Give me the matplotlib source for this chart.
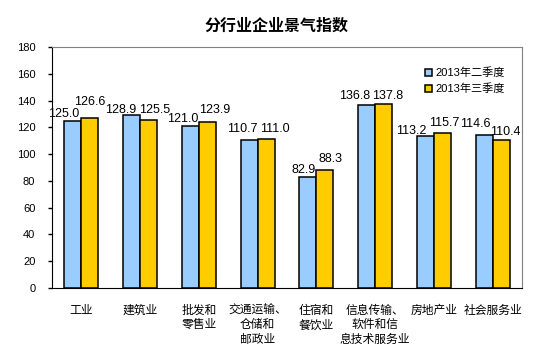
import matplotlib.pyplot as plt
import numpy as np

plt.rcParams['font.family'] = ['Liberation Sans', 'Noto Sans CJK SC']

categories = ['工业', '建筑业', '批发和\n零售业', '交通运输、\n仓储和\n邮政业', '住宿和\n餐饮业',
              '信息传输、\n软件和信\n息技术服务业', '房地产业', '社会服务业']
q2 = [125.0, 128.9, 121.0, 110.7, 82.9, 136.8, 113.2, 114.6]
q3 = [126.6, 125.5, 123.9, 111.0, 88.3, 137.8, 115.7, 110.4]
series_names = ['2013年二季度', '2013年三季度']

# label nudges in pixels (dx, dy above bar top), as Excel staggered them
q2_off = [(-9, 7), (-10.5, 5), (-8, 7), (-7, 11), (-4.5, 7.5), (-11.5, 9), (-14, 5.5), (-8.5, 11)]
q3_off = [(0, 16.5), (6, 9.5), (7.5, 12), (9, 10.5), (5.5, 11), (4, 8), (1.5, 10), (4, 8.5)]

fig = plt.figure(figsize=(5.57, 3.53), dpi=100)
ax = fig.add_axes([52/557, 65/353, 470/557, 241/353])

x = np.arange(len(categories))
w = 0.29
b1 = ax.bar(x - w/2, q2, w, color='#99CCFF', edgecolor='black', linewidth=1.1, label=series_names[0])
b2 = ax.bar(x + w/2, q3, w, color='#FFCC00', edgecolor='black', linewidth=1.1, label=series_names[1])

px = 72 / 100
for bars, vals, offs in [(b1, q2, q2_off), (b2, q3, q3_off)]:
    for r, v, (dx, dy) in zip(bars, vals, offs):
        ax.annotate('%.1f' % v, (r.get_x() + r.get_width()/2, v),
                    xytext=(dx*px, dy*px), textcoords='offset points',
                    ha='center', va='center', fontsize=9)

ax.set_xlim(-0.5, len(categories) - 0.5)
ax.set_ylim(0, 180)
ax.set_yticks(range(0, 181, 20))
ax.set_xticks(x)
ax.set_xticklabels(categories, fontsize=8.5, linespacing=1.3, va='top')
ax.tick_params(axis='x', length=0, pad=12)
ax.tick_params(axis='y', length=3, width=1, direction='out', labelsize=8, pad=9)

for s in ['top', 'right']:
    ax.spines[s].set_color('#808080')
for s in ['left', 'bottom']:
    ax.spines[s].set_color('black')

ax.legend(loc='upper left', bbox_to_anchor=(373/470, 0.915), frameon=False, fontsize=8,
          handlelength=0.6, handleheight=0.6, handletextpad=0.3, labelspacing=0.5,
          borderaxespad=0, borderpad=0)

fig.text(276/557, 1 - 26/353, '分行业企业景气指数', ha='center', va='center',
         fontsize=11.5, fontweight='bold', family=['Noto Sans CJK SC'])

fig.savefig('out.png', dpi=100)
